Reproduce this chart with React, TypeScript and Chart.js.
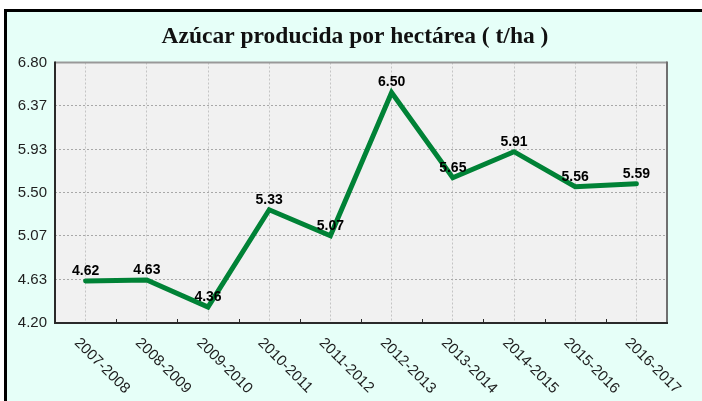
import React, { useEffect, useRef } from 'react';
import { Chart, registerables } from 'chart.js';

Chart.register(...registerables);

const titleText = 'Azúcar producida por hectárea ( t/ha )';
const seasons = [
  '2007-2008', '2008-2009', '2009-2010', '2010-2011', '2011-2012',
  '2012-2013', '2013-2014', '2014-2015', '2015-2016', '2016-2017',
];
const sugarPerHectare = [4.62, 4.63, 4.36, 5.33, 5.07, 6.5, 5.65, 5.91, 5.56, 5.59];
const yTickLabels = ['4.20', '4.63', '5.07', '5.50', '5.93', '6.37', '6.80'];

const decorPlugin = {
  id: 'decor',
  beforeDraw(chart: any) {
    const { ctx, chartArea: a } = chart;
    ctx.save();
    ctx.fillStyle = '#f1f1f1';
    ctx.fillRect(a.left, a.top, a.right - a.left, a.bottom - a.top);
    ctx.restore();
  },
  afterDraw(chart: any) {
    const { ctx, chartArea: a } = chart;
    const xs = chart.scales.x;
    ctx.save();
    // plot borders
    ctx.lineCap = 'butt';
    ctx.strokeStyle = '#999999';
    ctx.lineWidth = 2;
    ctx.beginPath();
    ctx.moveTo(a.left, a.top);
    ctx.lineTo(a.right, a.top);
    ctx.stroke();
    ctx.strokeStyle = '#707070';
    ctx.beginPath();
    ctx.moveTo(a.right, a.top - 1);
    ctx.lineTo(a.right, a.bottom);
    ctx.stroke();
    ctx.strokeStyle = '#2a2a2a';
    ctx.beginPath();
    ctx.moveTo(a.left, a.top - 1);
    ctx.lineTo(a.left, a.bottom);
    ctx.lineTo(a.right + 1, a.bottom);
    ctx.stroke();
    // boundary ticks on the category axis
    ctx.lineWidth = 1;
    for (let i = 0; i < seasons.length - 1; i++) {
      const bx = Math.round((xs.getPixelForValue(i) + xs.getPixelForValue(i + 1)) / 2) + 0.5;
      ctx.beginPath();
      ctx.moveTo(bx, a.bottom);
      ctx.lineTo(bx, a.bottom - 4);
      ctx.stroke();
    }
    // rotated category labels
    ctx.fillStyle = '#1e1e1e';
    ctx.font = '15px "Liberation Sans", Arial, sans-serif';
    ctx.textAlign = 'left';
    ctx.textBaseline = 'middle';
    seasons.forEach((s, i) => {
      const x = xs.getPixelForValue(i);
      ctx.save();
      ctx.translate(x - 9, a.bottom + 17.5);
      ctx.rotate(Math.PI / 4);
      ctx.fillText(s, 0, 0);
      ctx.restore();
    });
    // value labels
    const meta = chart.getDatasetMeta(0);
    ctx.fillStyle = '#000000';
    ctx.font = 'bold 14px "Liberation Sans", Arial, sans-serif';
    ctx.textAlign = 'center';
    ctx.textBaseline = 'middle';
    meta.data.forEach((pt: any, i: number) => {
      ctx.fillText(sugarPerHectare[i].toFixed(2), pt.x, pt.y - 10);
    });
    // title
    ctx.fillStyle = '#111111';
    ctx.font = 'bold 23.5px "Liberation Serif", serif';
    ctx.textAlign = 'center';
    ctx.textBaseline = 'alphabetic';
    ctx.fillText(titleText, 355, 43);
    ctx.restore();
  },
};

export default function App() {
  const canvasRef = useRef<HTMLCanvasElement | null>(null);

  useEffect(() => {
    const canvas = canvasRef.current;
    if (!canvas) return;
    const chart = new Chart(canvas, {
      type: 'line',
      data: {
        labels: seasons,
        datasets: [
          {
            data: sugarPerHectare,
            borderColor: '#008236',
            borderWidth: 5,
            borderJoinStyle: 'miter',
            borderCapStyle: 'round',
            pointRadius: 0,
            pointHoverRadius: 0,
            tension: 0,
            fill: false,
          },
        ],
      },
      options: {
        animation: false,
        responsive: false,
        devicePixelRatio: 1,
        events: [],
        layout: { padding: { left: 0, top: 62.5, right: 35, bottom: 78 } },
        plugins: {
          legend: { display: false },
          title: { display: false },
          tooltip: { enabled: false },
        },
        scales: {
          x: {
            type: 'category',
            offset: true,
            grid: { offset: false, color: '#c4c4c4', lineWidth: 1, drawTicks: false },
            border: { display: false, dash: [2, 2] },
            ticks: { display: false },
            afterFit: (s: any) => {
              s.height = 0;
            },
          },
          y: {
            min: parseFloat(yTickLabels[0]),
            max: parseFloat(yTickLabels[yTickLabels.length - 1]),
            afterBuildTicks: (s: any) => {
              s.ticks = yTickLabels.map((l) => ({ value: parseFloat(l) }));
            },
            ticks: {
              callback: (_v: any, i: number) => yTickLabels[i],
              color: '#1e1e1e',
              font: { family: '"Liberation Sans", Arial, sans-serif', size: 15 },
              padding: 8,
            },
            grid: { color: '#a8a8a8', lineWidth: 1, drawTicks: false },
            border: { display: false, dash: [2, 2] },
            afterFit: (s: any) => {
              s.width = 55;
            },
          },
        },
      },
      plugins: [decorPlugin],
    });
    return () => chart.destroy();
  }, []);

  return (
    <div
      style={{
        position: 'fixed',
        left: 0,
        top: 0,
        width: 702,
        height: 401,
        background: '#ffffff',
        overflow: 'hidden',
      }}
    >
      <div
        style={{
          position: 'absolute',
          left: 4,
          top: 9,
          right: -10,
          bottom: -10,
          borderLeft: '3px solid #000',
          borderTop: '3px solid #000',
          background: 'rgb(230,255,248)',
        }}
      />
      <canvas
        ref={canvasRef}
        width={702}
        height={401}
        style={{ position: 'absolute', left: 0, top: 0, width: 702, height: 401 }}
      />
    </div>
  );
}
